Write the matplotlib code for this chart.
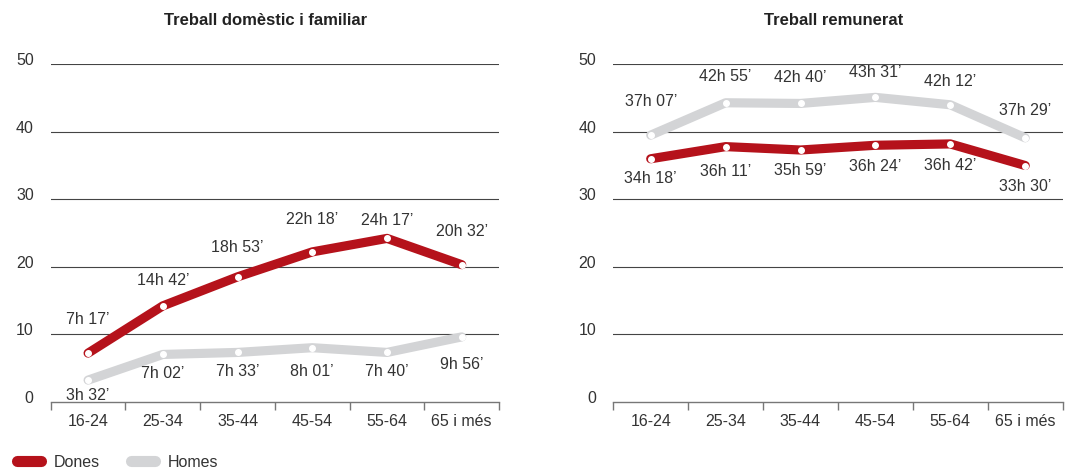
import matplotlib
matplotlib.use('Agg')
import matplotlib.pyplot as plt
from matplotlib.lines import Line2D

plt.rcParams['font.family'] = ['Liberation Sans', 'DejaVu Sans']

# dades
edats = ['16-24', '25-34', '35-44', '45-54', '55-64', '65 i més']

dom_dones = [7.2, 14.2, 18.5, 22.2, 24.2, 20.3]
dom_homes = [3.2, 7.0, 7.3, 8.0, 7.3, 9.6]
dom_dones_txt = ["7h 17’", "14h 42’", "18h 53’", "22h 18’", "24h 17’", "20h 32’"]
dom_homes_txt = ["3h 32’", "7h 02’", "7h 33’", "8h 01’", "7h 40’", "9h 56’"]

rem_dones = [36.0, 37.8, 37.3, 38.0, 38.2, 35.0]
rem_homes = [39.5, 44.3, 44.2, 45.1, 44.0, 39.1]
rem_dones_txt = ["34h 18’", "36h 11’", "35h 59’", "36h 24’", "36h 42’", "33h 30’"]
rem_homes_txt = ["37h 07’", "42h 55’", "42h 40’", "43h 31’", "42h 12’", "37h 29’"]

yticks = [0, 10, 20, 30, 40, 50]

# estil
VERMELL = '#b5121b'
GRIS = '#d3d4d6'
TXT = '#333333'
FS = 11.5

fig = plt.figure(figsize=(10.68, 4.68), dpi=100)
ax1 = fig.add_axes([0.0475, 0.1417, 0.4198, 0.7209])
ax2 = fig.add_axes([0.5742, 0.1417, 0.4208, 0.7209])


def panell(ax, titol, tx, dones, homes, dones_txt, homes_txt, off_d, off_h):
    xs = [i + 0.5 for i in range(len(edats))]
    ax.set_xlim(0, len(edats))
    ax.set_ylim(0, 50)
    for s in ['top', 'right', 'left']:
        ax.spines[s].set_visible(False)
    ax.spines['bottom'].set_color('#777777')
    ax.spines['bottom'].set_linewidth(1.0)

    for v in yticks[1:]:
        ax.axhline(v, color='#444444', lw=0.8, zorder=1)
    ax.set_yticks([])
    for v in yticks:
        ax.annotate(str(v), xy=(0, v), xycoords=('axes fraction', 'data'),
                    xytext=(-17, 3.5), textcoords='offset pixels',
                    ha='right', va='center', fontsize=FS, color=TXT)

    ax.set_xticks(xs)
    ax.set_xticklabels(edats)
    ax.set_xticks(range(len(edats) + 1), minor=True)
    ax.tick_params(axis='x', which='major', length=0, pad=9,
                   labelsize=FS, labelcolor=TXT)
    ax.tick_params(axis='x', which='minor', length=6, width=1.0,
                   color='#777777', direction='out')

    for serie, col, z in [(homes, GRIS, 3), (dones, VERMELL, 4)]:
        ax.plot(xs, serie, color=col, lw=6.6, solid_capstyle='round',
                solid_joinstyle='round', zorder=z, clip_on=False)
        ax.plot(xs, serie, linestyle='none', marker='o', ms=4.0,
                mfc='white', mec='white', zorder=z + 0.5, clip_on=False)

    for x, y, t, o in zip(xs, dones, dones_txt, off_d):
        ax.annotate(t, xy=(x, y), xytext=(0, o), textcoords='offset pixels',
                    ha='center', va='center', fontsize=FS, color=TXT)
    for x, y, t, o in zip(xs, homes, homes_txt, off_h):
        ax.annotate(t, xy=(x, y), xytext=(0, o), textcoords='offset pixels',
                    ha='center', va='center', fontsize=FS, color=TXT)

    ax.text(tx, 1.131, titol, transform=ax.transAxes, ha='center',
            va='center', fontsize=12, fontweight='bold', color='#222222')


panell(ax1, 'Treball domèstic i familiar', 0.48,
       dom_dones, dom_homes, dom_dones_txt, dom_homes_txt,
       [34, 25, 29, 32, 18, 33], [-15, -19, -19, -24, -19, -28])
panell(ax2, 'Treball remunerat', 0.491,
       rem_dones, rem_homes, rem_dones_txt, rem_homes_txt,
       [-20, -25, -21, -21, -22, -21], [34, 26, 26, 25, 23, 27])

handles = [Line2D([], [], color=VERMELL, lw=8, solid_capstyle='round'),
           Line2D([], [], color=GRIS, lw=8, solid_capstyle='round')]
fig.legend(handles, ['Dones', 'Homes'], loc='center left',
           bbox_to_anchor=(0.0155, 0.0128), ncol=2, frameon=False,
           handlelength=1.5, handletextpad=0.8, columnspacing=2.0,
           borderpad=0, borderaxespad=0, fontsize=FS, labelcolor=TXT)

fig.savefig('out.png', dpi=100, facecolor='white')
